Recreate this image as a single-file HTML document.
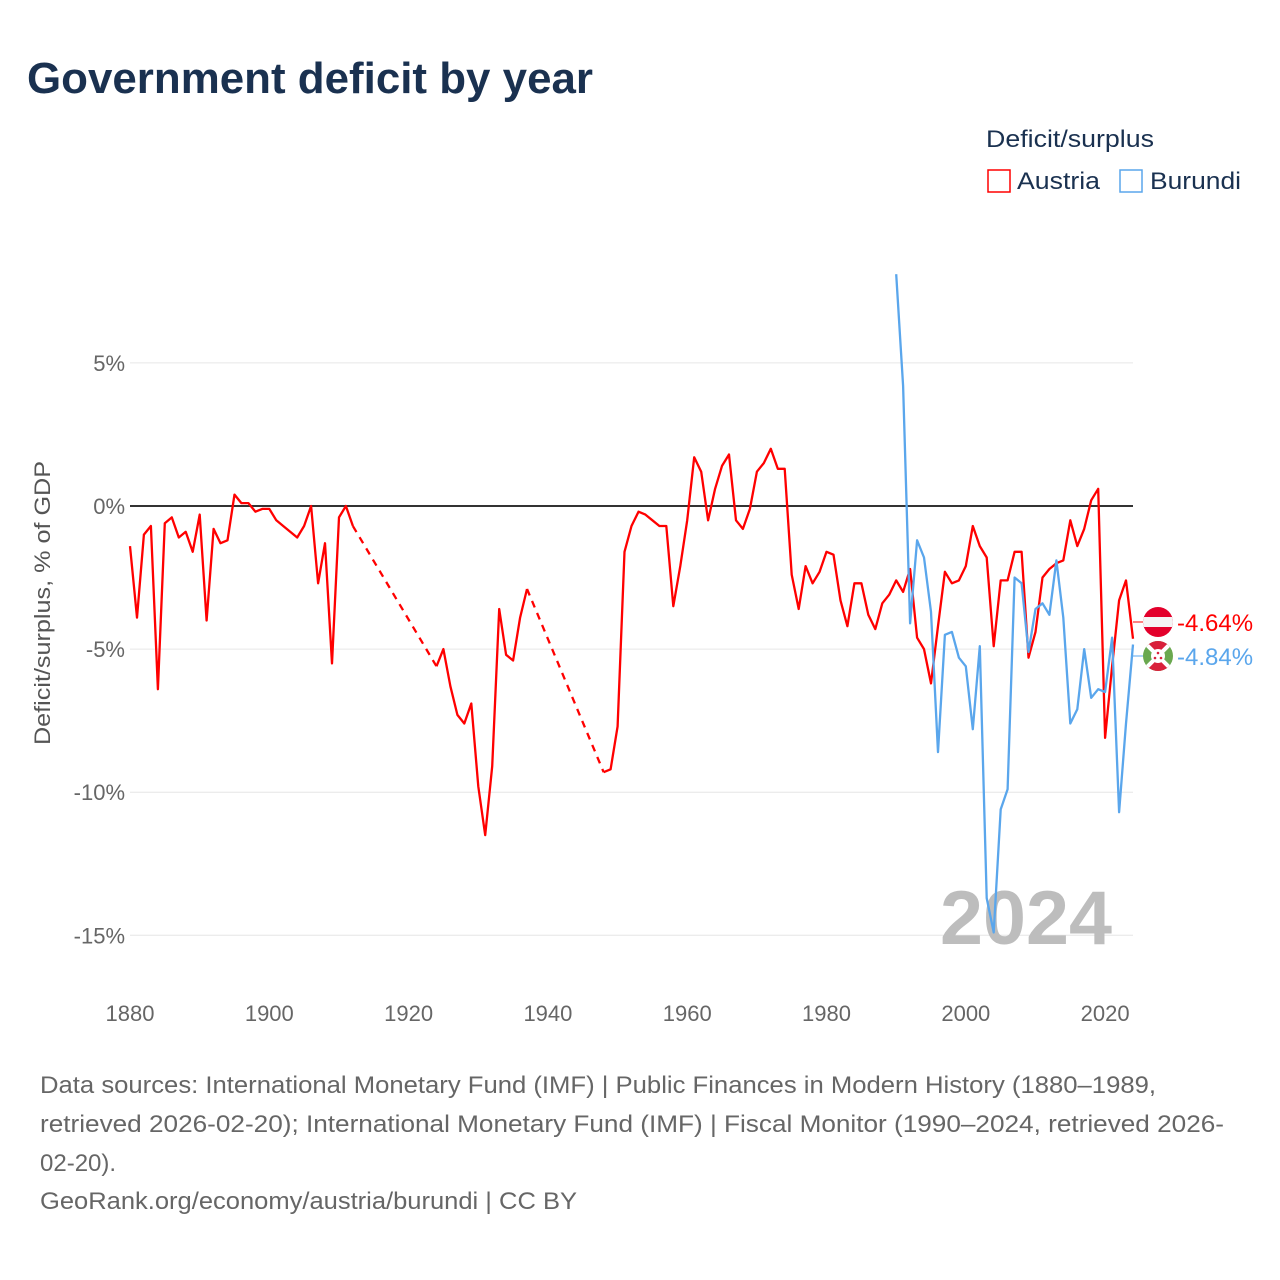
<!DOCTYPE html>
<html><head><meta charset="utf-8"><style>
html,body{margin:0;padding:0;background:#fff;}
svg{display:block;font-family:"Liberation Sans",sans-serif;}
</style></head><body>
<svg id="chart" width="1280" height="1280" viewBox="0 0 1280 1280">
<defs>
<clipPath id="ca"><circle cx="1158" cy="622" r="15"/></clipPath>
<clipPath id="cb"><circle cx="1158" cy="656" r="15"/></clipPath>
</defs>
<text x="27" y="93" font-size="44" font-weight="bold" fill="#1a3150" textLength="566" lengthAdjust="spacingAndGlyphs">Government deficit by year</text>
<g>
<text x="986" y="147" font-size="24" fill="#1a3150" textLength="168" lengthAdjust="spacingAndGlyphs">Deficit/surplus</text>
<g><rect x="988" y="170" width="22" height="22" fill="none" stroke="#ff0000" stroke-width="1.5"/><text x="1017" y="189" font-size="24" fill="#1a3150" textLength="83" lengthAdjust="spacingAndGlyphs">Austria</text></g>
<g><rect x="1120" y="170" width="22" height="22" fill="none" stroke="#5aa6ec" stroke-width="1.5"/><text x="1150" y="189" font-size="24" fill="#1a3150" textLength="91" lengthAdjust="spacingAndGlyphs">Burundi</text></g>
</g>
<g id="grid"></g>
<g id="yticks"></g>
<g id="xticks"></g>
<text x="1112" y="944" font-size="76" font-weight="bold" fill="#bdbdbd" text-anchor="end" textLength="172" lengthAdjust="spacingAndGlyphs">2024</text>
<text transform="translate(50,603) rotate(-90)" font-size="22" fill="#555" text-anchor="middle" textLength="284" lengthAdjust="spacingAndGlyphs">Deficit/surplus, % of GDP</text>
<g id="series"></g>
<g id="endlabels"></g>
<g font-size="24" fill="#666">
<text x="40" y="1093" textLength="1116" lengthAdjust="spacingAndGlyphs">Data sources: International Monetary Fund (IMF) | Public Finances in Modern History (1880–1989,</text>
<text x="40" y="1132" textLength="1184" lengthAdjust="spacingAndGlyphs">retrieved 2026-02-20); International Monetary Fund (IMF) | Fiscal Monitor (1990–2024, retrieved 2026-</text>
<text x="40" y="1171">02-20).</text>
<text x="40" y="1209" textLength="537" lengthAdjust="spacingAndGlyphs">GeoRank.org/economy/austria/burundi | CC BY</text>
</g>
</svg>
<script>
const austriaYears1 = [1880,1881,1882,1883,1884,1885,1886,1887,1888,1889,1890,1891,1892,1893,1894,1895,1896,1897,1898,1899,1900,1901,1902,1903,1904,1905,1906,1907,1908,1909,1910,1911,1912];
const austriaValues1 = [-1.4,-3.9,-1.0,-0.7,-6.4,-0.6,-0.4,-1.1,-0.9,-1.6,-0.3,-4.0,-0.8,-1.3,-1.2,0.4,0.1,0.1,-0.2,-0.1,-0.1,-0.5,-0.7,-0.9,-1.1,-0.7,0.0,-2.7,-1.3,-5.5,-0.4,0.0,-0.7];
const austriaYears2 = [1924,1925,1926,1927,1928,1929,1930,1931,1932,1933,1934,1935,1936,1937];
const austriaValues2 = [-5.6,-5.0,-6.3,-7.3,-7.6,-6.9,-9.8,-11.5,-9.1,-3.6,-5.2,-5.4,-3.9,-2.9];
const austriaYears3 = [1948,1949,1950,1951,1952,1953,1954,1955,1956,1957,1958,1959,1960,1961,1962,1963,1964,1965,1966,1967,1968,1969,1970,1971,1972,1973,1974,1975,1976,1977,1978,1979,1980,1981,1982,1983,1984,1985,1986,1987,1988,1989,1990,1991,1992,1993,1994,1995,1996,1997,1998,1999,2000,2001,2002,2003,2004,2005,2006,2007,2008,2009,2010,2011,2012,2013,2014,2015,2016,2017,2018,2019,2020,2021,2022,2023,2024];
const austriaValues3 = [-9.3,-9.2,-7.7,-1.6,-0.7,-0.2,-0.3,-0.5,-0.7,-0.7,-3.5,-2.1,-0.5,1.7,1.2,-0.5,0.6,1.4,1.8,-0.5,-0.8,-0.1,1.2,1.5,2.0,1.3,1.3,-2.4,-3.6,-2.1,-2.7,-2.3,-1.6,-1.7,-3.3,-4.2,-2.7,-2.7,-3.8,-4.3,-3.4,-3.1,-2.6,-3.0,-2.2,-4.6,-5.0,-6.2,-4.2,-2.3,-2.7,-2.6,-2.1,-0.7,-1.4,-1.8,-4.9,-2.6,-2.6,-1.6,-1.6,-5.3,-4.4,-2.5,-2.2,-2.0,-1.9,-0.5,-1.4,-0.8,0.2,0.6,-8.1,-5.6,-3.3,-2.6,-4.64];
const burundiYears = [1990,1991,1992,1993,1994,1995,1996,1997,1998,1999,2000,2001,2002,2003,2004,2005,2006,2007,2008,2009,2010,2011,2012,2013,2014,2015,2016,2017,2018,2019,2020,2021,2022,2023,2024];
const burundiValues = [8.1,4.2,-4.1,-1.2,-1.8,-3.7,-8.6,-4.5,-4.4,-5.3,-5.6,-7.8,-4.9,-13.7,-14.9,-10.6,-9.9,-2.5,-2.7,-5.1,-3.6,-3.4,-3.8,-1.9,-3.9,-7.6,-7.1,-5.0,-6.7,-6.4,-6.5,-4.6,-10.7,-7.6,-4.84];
const yTicks = [5,0,-5,-10,-15];
const yTickLabels = ["5%","0%","-5%","-10%","-15%"];
const xTicks = [1880,1900,1920,1940,1960,1980,2000,2020];

const NS="http://www.w3.org/2000/svg";
const X0=130,X1=1133;
function xScale(yr){return X0+(yr-1880)*(X1-X0)/144;}
function yScale(v){return 506-v*28.62;}
function mk(tag,attrs,parent){const e=document.createElementNS(NS,tag);for(const k in attrs)e.setAttribute(k,attrs[k]);parent.appendChild(e);return e;}

const grid=document.getElementById('grid');
const yt=document.getElementById('yticks');
yTicks.forEach((v,i)=>{
  const l=mk('line',{x1:X0,x2:X1,y1:yScale(v),y2:yScale(v),stroke:v===0?'#333':'#e6e6e6','stroke-width':v===0?2:1},grid);
  
  
  const t=mk('text',{x:125,y:yScale(v)+8,'font-size':22,fill:'#666','text-anchor':'end'},yt);
  t.textContent=yTickLabels[i];
  
  
});
const xt=document.getElementById('xticks');
xTicks.forEach(yr=>{
  const t=mk('text',{x:xScale(yr),y:1021,'font-size':22,fill:'#666','text-anchor':'middle'},xt);
  t.textContent=yr;
  
  
});

const series=document.getElementById('series');
function pathFor(ys,vs){return ys.map((y,i)=>(i?'L':'M')+xScale(y).toFixed(1)+','+yScale(vs[i]).toFixed(1)).join('');}
function solid(ys,vs,color,name){
  const p=mk('path',{d:pathFor(ys,vs),fill:'none',stroke:color,'stroke-width':2.3,'stroke-linejoin':'round'},series);
  
  
}
function dashed(y1,v1,y2,v2,name){
  const p=mk('line',{x1:xScale(y1),y1:yScale(v1),x2:xScale(y2),y2:yScale(v2),stroke:'#ff0000','stroke-width':2.3,'stroke-dasharray':'7,6'},series);
  
  
}
solid(austriaYears1,austriaValues1,'#ff0000','austria-line-1880-1912');
dashed(austriaYears1[austriaYears1.length-1],austriaValues1[austriaValues1.length-1],austriaYears2[0],austriaValues2[0],'austria-gap-1913-1923');
solid(austriaYears2,austriaValues2,'#ff0000','austria-line-1924-1937');
dashed(austriaYears2[austriaYears2.length-1],austriaValues2[austriaValues2.length-1],austriaYears3[0],austriaValues3[0],'austria-gap-1938-1947');
solid(austriaYears3,austriaValues3,'#ff0000','austria-line-1948-2024');
solid(burundiYears,burundiValues,'#5aa6ec','burundi-line');

const el=document.getElementById('endlabels');
const aLast=austriaValues3[austriaValues3.length-1], bLast=burundiValues[burundiValues.length-1];
const ay=622, by=656;
const ag=mk('g',{},el);


mk('line',{x1:1133,y1:ay,x2:1143,y2:ay,stroke:'#ff0000','stroke-width':1},ag);
const af=mk('g',{'clip-path':'url(#ca)'},ag);
mk('rect',{x:1143,y:ay-15,width:30,height:30,fill:'#e3002b'},af);
mk('rect',{x:1143,y:ay-5,width:30,height:10,fill:'#f4f4f4'},af);
const at=mk('text',{x:1177,y:ay+9,'font-size':24,fill:'#ff0000'},ag);at.textContent=aLast.toFixed(2)+'%';
const bg=mk('g',{},el);


mk('line',{x1:1133,y1:by,x2:1143,y2:by,stroke:'#5aa6ec','stroke-width':1},bg);
const bf=mk('g',{'clip-path':'url(#cb)'},bg);
mk('rect',{x:1143,y:by-15,width:30,height:30,fill:'#6aa84f'},bf);
mk('path',{d:`M1143,${by-15}L1173,${by-15}L1158,${by}Z M1143,${by+15}L1173,${by+15}L1158,${by}Z`,fill:'#d9213b'},bf);
mk('path',{d:`M1143,${by-15}L1173,${by+15}M1173,${by-15}L1143,${by+15}`,stroke:'#fff','stroke-width':4},bf);
mk('circle',{cx:1158,cy:by,r:7,fill:'#fff'},bf);
mk('circle',{cx:1158,cy:by-3,r:1.3,fill:'#d9213b'},bf);
mk('circle',{cx:1155,cy:by+2,r:1.3,fill:'#d9213b'},bf);
mk('circle',{cx:1161,cy:by+2,r:1.3,fill:'#d9213b'},bf);
const bt=mk('text',{x:1177,y:by+9,'font-size':24,fill:'#5aa6ec'},bg);bt.textContent=bLast.toFixed(2)+'%';
</script>
</body></html>
